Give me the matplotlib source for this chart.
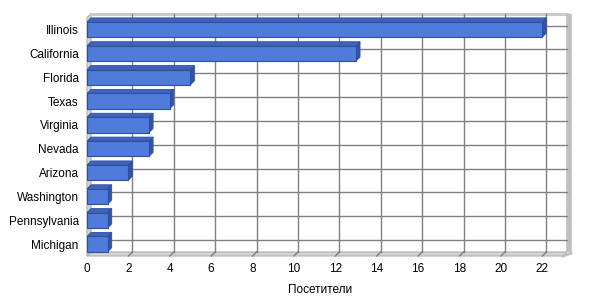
import matplotlib
matplotlib.use("Agg")
import matplotlib.pyplot as plt
from matplotlib.patches import Polygon, Rectangle

categories = ["Illinois", "California", "Florida", "Texas", "Virginia",
              "Nevada", "Arizona", "Washington", "Pennsylvania", "Michigan"]
values = [22, 13, 5, 4, 3, 3, 2, 1, 1, 1]
xticks = [0, 2, 4, 6, 8, 10, 12, 14, 16, 18, 20, 22]
xlabel = "Посетители"

plt.rcParams['font.family'] = ['Liberation Sans', 'DejaVu Sans']

W, H = 600, 300
fig = plt.figure(figsize=(6, 3), dpi=100)
left_px, right_px, top_px, bot_px = 87, 563, 17.6, 256
ax = fig.add_axes([left_px / W, 1 - bot_px / H, (right_px - left_px) / W, (bot_px - top_px) / H])
xmax = 23.0
n = len(categories)
ax.set_xlim(0, xmax)
ax.set_ylim(n - 0.5, -0.5)
for s in ax.spines.values():
    s.set_visible(False)

pxu_x = (right_px - left_px) / xmax
pxu_y = (bot_px - top_px) / n
depth = 4.0
dx = depth / pxu_x
dy = depth / pxu_y

grid_c = "#808080"
y0, y1 = -0.5, n - 0.5

# floor
ax.add_patch(Polygon([(0, y1), (xmax, y1), (xmax + dx, y1 - dy), (dx, y1 - dy)],
                     closed=True, facecolor="#d4d4d4", edgecolor="#b0b0b0", lw=0.8, clip_on=False, zorder=1))
# left wall
ax.add_patch(Polygon([(0, y0), (0, y1), (dx, y1 - dy), (dx, y0 - dy)],
                     closed=True, facecolor="#d4d4d4", edgecolor="#b0b0b0", lw=0.8, clip_on=False, zorder=1))
# back wall top line and right edge
ax.plot([dx, xmax + dx], [y0 - dy, y0 - dy], color="#c8c8c8", lw=2.0, clip_on=False, zorder=1)
ax.plot([xmax + dx + 0.1, xmax + dx + 0.1], [y0 - dy, y1 - dy], color="#c0c0c0", lw=4.0,
        clip_on=False, zorder=1, solid_capstyle="butt")
ax.plot([xmax, xmax + dx + 0.2], [y1, y1 - dy + 0.05], color="#c0c0c0", lw=2.0, clip_on=False, zorder=1)

# back wall gridlines
for t in xticks:
    if t == 0:
        continue
    ax.plot([t + dx, t + dx], [y0 - dy, y1 - dy], color=grid_c, lw=1.0, clip_on=False, zorder=2)
    ax.plot([t, t + dx], [y1, y1 - dy], color=grid_c, lw=1.0, clip_on=False, zorder=2)
for i in range(n):
    ax.plot([dx, xmax + dx], [i - dy, i - dy], color=grid_c, lw=1.0, clip_on=False, zorder=2)

# bars
h = 0.64
front_c = "#4f7bdb"
top_c = "#3f63bd"
side_c = "#3652a0"
edge_c = "#2f4f9f"
for i, v in enumerate(values):
    yt = i - h / 2
    yb = i + h / 2
    ax.add_patch(Polygon([(0, yt), (v, yt), (v + dx, yt - dy), (dx, yt - dy)], closed=True,
                         facecolor=top_c, edgecolor=edge_c, lw=0.6, zorder=4, clip_on=False))
    ax.add_patch(Polygon([(v, yt), (v, yb), (v + dx, yb - dy), (v + dx, yt - dy)], closed=True,
                         facecolor=side_c, edgecolor=edge_c, lw=0.6, zorder=4, clip_on=False))
    ax.add_patch(Rectangle((0, yt), v, h, facecolor=front_c, edgecolor=edge_c, lw=0.8, zorder=5, clip_on=False))

ax.set_yticks(range(n))
ax.set_yticklabels(categories, fontsize=8.5)
ax.set_xticks(xticks)
ax.set_xticklabels([str(t) for t in xticks], fontsize=8.5)
ax.tick_params(axis="both", length=0)
ax.tick_params(axis="y", pad=6)
ax.tick_params(axis="x", pad=5)
ax.set_xlabel(xlabel, fontsize=8.5)
ax.xaxis.set_label_coords((320 - left_px) / (right_px - left_px), -(284 - bot_px) / (bot_px - top_px))
ax.set_facecolor("white")

fig.savefig("out.png", dpi=100, facecolor="white")
